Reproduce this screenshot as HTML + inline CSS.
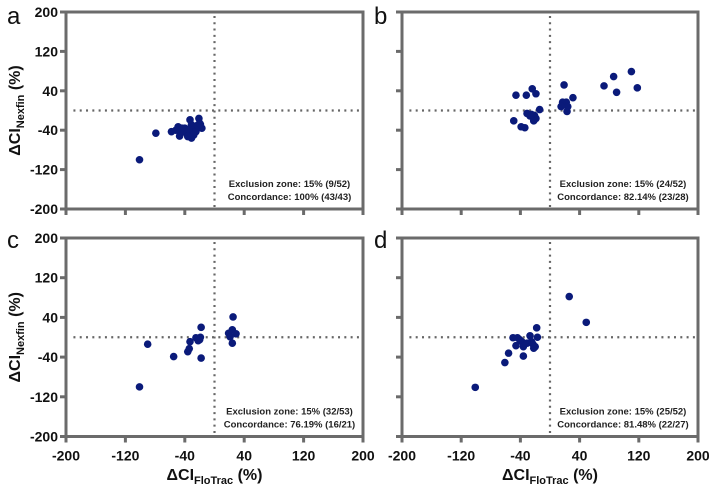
<!DOCTYPE html>
<html><head><meta charset="utf-8"><style>
html,body{margin:0;padding:0;background:#fff;}
svg text{font-family:"Liberation Sans",sans-serif;}
</style></head><body>
<svg id="fig" width="709" height="489" xmlns="http://www.w3.org/2000/svg"></svg>
<script>
const xTicks=[-200,-120,-40,40,120,200];
const yTicks=[-200,-120,-40,40,120,200];
const panelLabels=["a","b","c","d"];
const exclusionText=["Exclusion zone: 15% (9/52)","Exclusion zone: 15% (24/52)","Exclusion zone: 15% (32/53)","Exclusion zone: 15% (25/52)"];
const concordanceText=["Concordance: 100% (43/43)","Concordance: 82.14% (23/28)","Concordance: 76.19% (16/21)","Concordance: 81.48% (22/27)"];
const aX=[-101,-79,-58,-49,-47,-40,-33,-31,-29,-27,-21,-17,-20,-38,-45,-25,-31,-36,-42,-52,-23,-35,-28,-19,-44];
const aY=[-100,-46,-43,-33,-52,-36,-19,-56,-46,-33,-16,-36,-26,-46,-43,-43,-29,-53,-40,-40,-30,-38,-50,-28,-36];
const bX=[-46,-32,-24,-19,-14,-31,-27,-21,-19,-22,-49,-39,-34,19,17,22,15,24,23,31,73,86,90,110,118,-25];
const bY=[31,31,44,34,2,-6,-11,-10,-16,-21,-21,-33,-35,52,17,17,8,8,-2,26,50,69,37,79,46,-8];
const cX=[-101,-90,-55,-36,-34,-33,-25,-22,-19,-18,-18,19,24,25,24,29,21,-23,-20];
const cY=[-100,-14,-39,-29,-23,-9,-1,-7,0,20,-42,8,15,41,-12,7,1,-3,-5];
const dX=[-101,-61,-56,-36,-50,-44,-46,-38,-36,-31,-27,-25,-22,-20,-18,-17,26,49,-23,-41];
const dY=[-101,-51,-32,-38,-1,-1,-17,-9,-19,-12,3,-9,-22,-19,19,0,82,30,-14,-5];
const seriesX=[aX,bX,cX,dX], seriesY=[aY,bY,cY,dY];

const NS="http://www.w3.org/2000/svg";
const svg=document.getElementById('fig');
function mk(tag,attrs,parent){const e=document.createElementNS(NS,tag);for(const k in attrs)e.setAttribute(k,attrs[k]);(parent||svg).appendChild(e);return e;}
const panels=[{x0:66,x1:363,y0:12,y1:209},{x0:402,x1:698,y0:12,y1:209},{x0:66,x1:363,y0:238,y1:436.5},{x0:402,x1:698,y0:238,y1:436.5}];
const AX="#6b6b6b";
panels.forEach((p,i)=>{
  const g=mk('g',{});
  
  
  const sx=v=>p.x0+(v+200)/400*(p.x1-p.x0);
  const sy=v=>p.y1-(v+200)/400*(p.y1-p.y0);
  // dotted reference lines
  const hl=mk('line',{x1:sx(-190),x2:p.x1,y1:sy(0),y2:sy(0),stroke:"#666","stroke-width":2.2,"stroke-dasharray":"2 4.3"},g);
  
  
  const vl=mk('line',{x1:sx(0),x2:sx(0),y1:sy(192),y2:p.y1,stroke:"#666","stroke-width":2.2,"stroke-dasharray":"2 4.3"},g);
  
  
  // axes
  const ax=mk('path',{d:`M${p.x0} ${p.y0} L${p.x0} ${p.y1} L${p.x1} ${p.y1}`,fill:"none",stroke:AX,"stroke-width":3},g);
  
  
  const rt=mk('path',{d:`M${p.x0} ${p.y0} L${p.x1} ${p.y0} L${p.x1} ${p.y1}`,fill:"none",stroke:AX,"stroke-width":3},g);
  
  
  yTicks.forEach(t=>{
    const tk=mk('line',{x1:p.x0-6,x2:p.x0,y1:sy(t),y2:sy(t),stroke:AX,"stroke-width":3},g);
    
    
    if(i%2===0){
      const tl=mk('text',{x:p.x0-8,y:sy(t)+5,"text-anchor":"end","font-size":14,"font-weight":"bold",fill:"#111"},g);
      tl.textContent=t;
      
      
    }
  });
  xTicks.forEach(t=>{
    const tk=mk('line',{x1:sx(t),x2:sx(t),y1:p.y1,y2:p.y1+6,stroke:AX,"stroke-width":3},g);
    
    
    if(i>=2){
      const tl=mk('text',{x:sx(t),y:p.y1+24,"text-anchor":"middle","font-size":14,"font-weight":"bold",fill:"#111"},g);
      tl.textContent=t;
      
      
    }
  });
  seriesX[i].forEach((v,j)=>{
    const c=mk('circle',{cx:sx(v),cy:sy(seriesY[i][j]),r:3.8,fill:"#0a1a7a"},g);
    
    
  });
  const cxT=(p.x0+p.x1)/2+ (i%2?73:75);
  const e1=mk('text',{x:cxT,y:p.y1-22,"text-anchor":"middle","font-size":9.5,"font-weight":"bold",fill:"#222"},g);
  e1.textContent=exclusionText[i];
  
  
  const e2=mk('text',{x:cxT,y:p.y1-9,"text-anchor":"middle","font-size":9.5,"font-weight":"bold",fill:"#222"},g);
  e2.textContent=concordanceText[i];
  
  
  const pl=mk('text',{x:i%2?374:7,y:p.y0+(i<2?12:10),"font-size":24,fill:"#111"},g);
  pl.textContent=panelLabels[i];
  
  
  if(i%2===0){
    const yc=(p.y0+p.y1)/2;
    const yt=mk('text',{transform:`translate(20 ${yc}) rotate(-90)`,"text-anchor":"middle","font-size":16,"font-weight":"bold",fill:"#111"},g);
    yt.innerHTML='ΔCI<tspan font-size="11" dy="4">Nexfin</tspan><tspan dy="-4"> (%)</tspan>';
    
    
  }
  if(i>=2){
    const xt=mk('text',{x:(p.x0+p.x1)/2,y:480,"text-anchor":"middle","font-size":16,"font-weight":"bold",fill:"#111"},g);
    xt.innerHTML='ΔCI<tspan font-size="11" dy="4">FloTrac</tspan><tspan dy="-4"> (%)</tspan>';
    
    
  }
});
</script>
</body></html>
